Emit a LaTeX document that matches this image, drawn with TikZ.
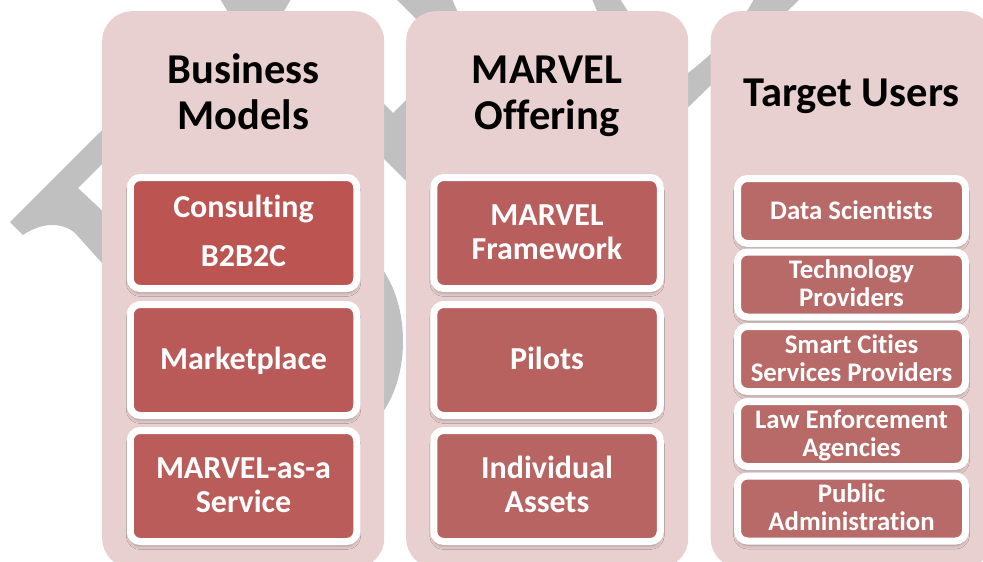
\documentclass[tikz,border=0pt]{standalone}
\usepackage{fontspec}
\setmainfont{Carlito}[Ligatures={NoCommon,NoContextual,NoRequired}, Contextuals=NoAlternate]
\usetikzlibrary{shadows.blur}
\definecolor{wm}{HTML}{C0C0C0}
\definecolor{panelpink}{HTML}{E8CFD0}
\definecolor{ra}{HTML}{BC5451}
\definecolor{rb}{HTML}{B95A58}
\definecolor{rc}{HTML}{B95C5A}
\definecolor{rd}{HTML}{B85F5D}
\definecolor{re}{HTML}{B86260}
\definecolor{rf}{HTML}{B86462}
\definecolor{rg}{HTML}{B86A68}
\newcommand\tlines[1]{\begin{tabular}[b]{@{}c@{}}#1\end{tabular}}
\newcommand\mlines[1]{\raisebox{-2.5pt}[\height][\depth]{\begin{tabular}[b]{@{}c@{}}#1\end{tabular}}}
\begin{document}
\begin{tikzpicture}[x=1pt,y=-1pt,
  panelbox/.style={fill=panelpink, draw=none, rounded corners=30pt, inner sep=0pt,
    minimum width=282pt, minimum height=557pt, anchor=north west},
  titletext/.style={font=\fontsize{42.5}{46}\selectfont\bfseries, text=black, inner sep=0pt, anchor=base},
  itembox/.style={draw=white, line width=7pt, rounded corners=10pt, inner sep=0pt,
    text=white, font=\fontsize{32}{34}\selectfont\bfseries,
    minimum width=226.5pt, minimum height=111pt,
    blur shadow={shadow xshift=0pt, shadow yshift=-4pt, shadow blur radius=4pt, shadow opacity=35}},
  smallbox/.style={itembox, font=\fontsize{26.8}{28}\selectfont\bfseries,
    minimum width=228pt, minimum height=65pt, fill=rg}]
\useasboundingbox (0,0) rectangle (983,562);
\clip (0,0) rectangle (983,562);
% watermark pieces
\fill[wm] (10,222) -- (140,92) -- (140,126) -- (102,164) -- (78,188) -- (140,246) -- (140,300) -- (102,263) -- (75,233) .. controls (62,222) and (42,222) .. (23,235) -- cycle;
\fill[wm] (220,-1) -- (291,-1) -- (276,25) -- (236,25) -- cycle;
\fill[wm] (396,-1) -- (452,-1) -- (470,40) -- (437,40) -- cycle;
\fill[wm] (370,90) -- (393,113) -- (420,86) -- (420,195) -- (370,145) -- cycle;
\fill[wm] (340,341) ellipse [x radius=63pt, y radius=97pt];
\fill[wm] (592,-1) -- (620,-1) -- (640,30) -- (605,30) -- cycle;
\fill[wm] (675,82) .. controls (700,66) and (735,35) .. (754,-1) -- (800,-1) -- (708,88) -- (675,120) -- cycle;
% panels
\node[panelbox] (p1) at (102,11) {};
\node[panelbox] (p2) at (406,11) {};
\node[panelbox] (p3) at (710.5,11) {};
% titles
\node[titletext] (t1) at (243.5,129) {\tlines{Business\\Models}};
\node[titletext] (t2) at (547,129) {\tlines{MARVEL\\Offering}};
\node[titletext] (t3) at (851.5,106) {\tlines{Target Users}};
% business models
\node[itembox, fill=ra] (b1) at (243.5,233) {\mlines{Consult\kern0pt ing\\[15pt]B2B2C}};
\node[itembox, fill=rb] (b2) at (243.5,360) {\mlines{Marketplace}};
\node[itembox, fill=rc] (b3) at (243.5,486) {\mlines{MARVEL-as-a\\Service}};
% offering
\node[itembox, fill=rd] (o1) at (547,233) {\mlines{MARVEL\\Framework}};
\node[itembox, fill=re] (o2) at (547,360) {\mlines{Pilots}};
\node[itembox, fill=rf] (o3) at (547,486) {\mlines{Individual\\Assets}};
% target users
\node[smallbox] (u1) at (851.5,211) {\mlines{Data Scientists}};
\node[smallbox] (u2) at (851.5,284.5) {\mlines{Technology\\Providers}};
\node[smallbox] (u3) at (851.5,359) {\mlines{Smart Cities\\Services Providers}};
\node[smallbox] (u4) at (851.5,434) {\mlines{Law Enforcement\\Agencies}};
\node[smallbox] (u5) at (851.5,508.5) {\mlines{Public\\Administrat\kern0pt ion}};
\end{tikzpicture}
\end{document}
